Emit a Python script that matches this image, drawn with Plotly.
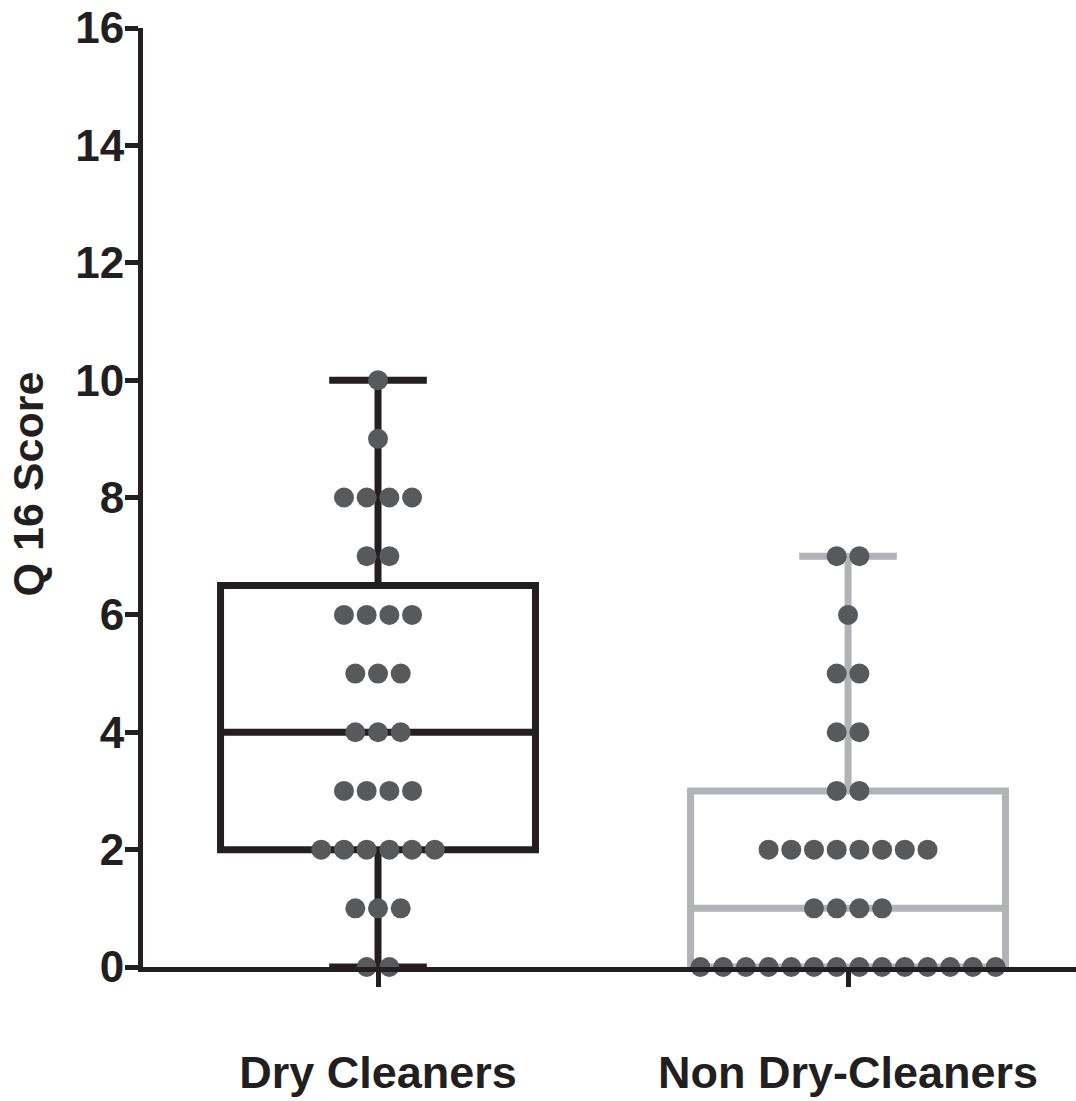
import numpy as np
import plotly.graph_objects as go

# ---- data ----
categories = ["Dry Cleaners", "Non Dry-Cleaners"]
dry_cleaners = [10, 9, 8, 8, 8, 8, 7, 7, 6, 6, 6, 6, 5, 5, 5, 4, 4, 4,
                3, 3, 3, 3, 2, 2, 2, 2, 2, 2, 1, 1, 1, 0, 0]
non_dry_cleaners = [7, 7, 6, 5, 5, 4, 4, 3, 3,
                    2, 2, 2, 2, 2, 2, 2, 2,
                    1, 1, 1, 1,
                    0, 0, 0, 0, 0, 0, 0, 0, 0, 0, 0, 0, 0, 0]
y_ticks = [0, 2, 4, 6, 8, 10, 12, 14, 16]

groups = [dry_cleaners, non_dry_cleaners]
box_colors = ["#231f20", "#b2b3b6"]
dot_color = "#58595b"
axis_color = "#231f20"
positions = [1, 2]
spacing = 0.0483  # horizontal spacing between stacked dots (x units)

fig = go.Figure()

for pos, vals, col, name in zip(positions, groups, box_colors, categories):
    arr = np.array(vals, dtype=float)
    q1, med, q3 = np.percentile(arr, [25, 50, 75], method="weibull")
    fig.add_trace(go.Box(
        x=[pos], q1=[q1], median=[med], q3=[q3],
        lowerfence=[arr.min()], upperfence=[arr.max()],
        width=0.67, whiskerwidth=0.31,
        line=dict(color=col, width=7),
        fillcolor="rgba(0,0,0,0)",
        boxpoints=False, name=name, showlegend=False,
        hoverinfo="skip",
    ))

for pos, vals in zip(positions, groups):
    xs, ys = [], []
    for v in sorted(set(vals), reverse=True):
        n = vals.count(v)
        for i in range(n):
            xs.append(pos + (i - (n - 1) / 2) * spacing)
            ys.append(v)
    fig.add_trace(go.Scatter(
        x=xs, y=ys, mode="markers",
        marker=dict(size=20, color=dot_color, line=dict(width=0)),
        cliponaxis=False, showlegend=False, hoverinfo="skip",
    ))

font_family = "Liberation Sans, Arial, sans-serif"

fig.update_layout(
    width=1076, height=1101,
    margin=dict(l=143, r=0, t=28, b=134, autoexpand=False),
    paper_bgcolor="white", plot_bgcolor="white",
    boxmode="overlay",
    showlegend=False,
    xaxis=dict(
        range=[0.5, 2.485],
        tickvals=positions, ticktext=categories,
        ticks="outside", ticklen=15, tickwidth=5, tickcolor=axis_color,
        tickfont=dict(family=font_family, size=45, color=axis_color, weight="bold"),
        ticklabelstandoff=47,
        showline=True, linecolor=axis_color, linewidth=5,
        showgrid=False, zeroline=False, automargin=False,
    ),
    yaxis=dict(
        range=[0, 16],
        tickvals=y_ticks,
        ticks="outside", ticklen=13, tickwidth=5, tickcolor=axis_color,
        tickfont=dict(family=font_family, size=44, color=axis_color, weight="bold"),
        ticklabelstandoff=-8,
        showline=True, linecolor=axis_color, linewidth=5,
        showgrid=False, zeroline=False, automargin=False,
    ),
    annotations=[dict(
        text="Q 16 Score", textangle=-90,
        xref="paper", yref="paper", x=-0.1233, y=0.515,
        xanchor="center", yanchor="middle", showarrow=False,
        font=dict(family=font_family, size=43, color=axis_color, weight="bold"),
    )],
)

fig.write_html("out.html")
